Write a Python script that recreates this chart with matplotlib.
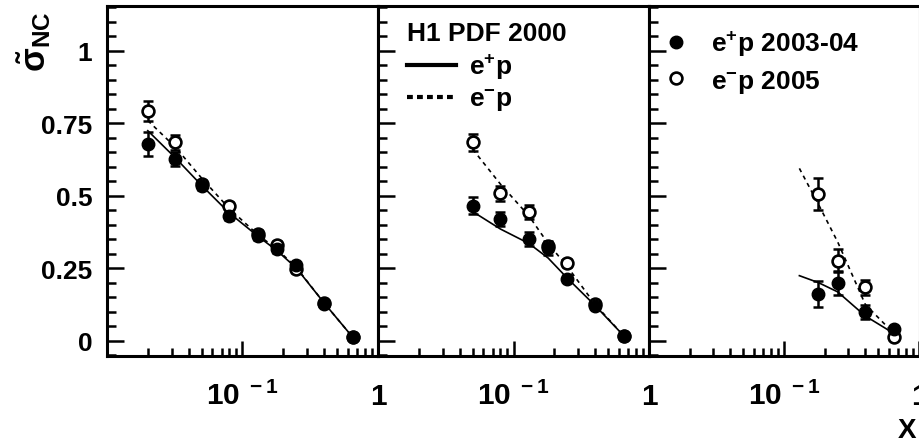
import numpy as np
import matplotlib
matplotlib.use('Agg')
import matplotlib.pyplot as plt
from matplotlib.ticker import FixedLocator, FixedFormatter, NullFormatter, LogLocator, MultipleLocator
from matplotlib.lines import Line2D

plt.rcParams['font.family'] = ['Liberation Sans', 'DejaVu Sans']
plt.rcParams['font.weight'] = 'bold'
plt.rcParams['mathtext.fontset'] = 'custom'
plt.rcParams['mathtext.rm'] = 'Liberation Sans:bold'
plt.rcParams['mathtext.it'] = 'Liberation Sans:bold'
plt.rcParams['mathtext.bf'] = 'Liberation Sans:bold'
plt.rcParams['mathtext.sf'] = 'Liberation Sans:bold'

# ---------------- data ----------------
# panel 1
p1_x = [0.02, 0.032, 0.05, 0.08, 0.13, 0.18, 0.25, 0.40, 0.65]
p1_eplus = [0.678, 0.627, 0.534, 0.431, 0.360, 0.315, 0.260, 0.127, 0.012]
p1_eplus_err = [0.040, 0.025, 0.015, 0.015, 0.012, 0.012, 0.012, 0.010, 0.008]
p1_eminus = [0.793, 0.684, 0.540, 0.466, 0.368, 0.330, 0.247, 0.130, 0.012]
p1_eminus_err = [0.035, 0.025, 0.015, 0.012, 0.012, 0.012, 0.015, 0.010, 0.008]
p1_th_x = [0.02, 0.032, 0.05, 0.08, 0.13, 0.18, 0.25, 0.40, 0.65]
p1_th_plus = [0.724, 0.630, 0.535, 0.440, 0.360, 0.310, 0.250, 0.130, 0.012]
p1_th_minus = [0.759, 0.667, 0.560, 0.455, 0.365, 0.315, 0.252, 0.130, 0.012]

# panel 2
p2_x = [0.05, 0.08, 0.13, 0.18, 0.25, 0.40, 0.65]
p2_eplus = [0.466, 0.420, 0.351, 0.319, 0.213, 0.121, 0.015]
p2_eplus_err = [0.030, 0.025, 0.025, 0.025, 0.012, 0.010, 0.008]
p2_eminus = [0.684, 0.508, 0.443, 0.325, 0.268, 0.125, 0.015]
p2_eminus_err = [0.030, 0.025, 0.025, 0.015, 0.015, 0.010, 0.008]
p2_th_x = [0.05, 0.08, 0.13, 0.18, 0.25, 0.40, 0.65]
p2_th_plus = [0.445, 0.385, 0.335, 0.285, 0.215, 0.121, 0.017]
p2_th_minus = [0.660, 0.540, 0.430, 0.335, 0.255, 0.125, 0.017]

# panel 3
p3_x = [0.18, 0.25, 0.40, 0.65]
p3_eplus = [0.161, 0.199, 0.098, 0.040]
p3_eplus_err = [0.046, 0.040, 0.025, 0.010]
p3_eminus = [0.506, 0.276, 0.184, 0.012]
p3_eminus_err = [0.055, 0.040, 0.025, 0.010]
p3_th_x = [0.13, 0.18, 0.25, 0.40, 0.65]
p3_th_plus = [0.224, 0.200, 0.168, 0.085, 0.025]
p3_th_minus = [0.594, 0.470, 0.340, 0.125, 0.025]

x_major = [0.01, 0.1, 1.0]
x_major_labels = ['', r'$10^{\ -1}$', '1']
y_major = [0, 0.25, 0.5, 0.75, 1.0]
y_major_labels = ['0', '0.25', '0.5', '0.75', '1']

legend_theory_title = 'H1 PDF 2000'
legend_theory_labels = [r'e$^{+}$p', r'e$^{-}$p']
legend_data_labels = [r'e$^{+}$p 2003-04', r'e$^{-}$p 2005']
ylabel_text = r'$\tilde{\sigma}_{\mathrm{NC}}$'
xlabel_text = 'X'

panels = [
    dict(x=p1_x, ep=p1_eplus, epe=p1_eplus_err, em=p1_eminus, eme=p1_eminus_err,
         tx=p1_th_x, tp=p1_th_plus, tm=p1_th_minus),
    dict(x=p2_x, ep=p2_eplus, epe=p2_eplus_err, em=p2_eminus, eme=p2_eminus_err,
         tx=p2_th_x, tp=p2_th_plus, tm=p2_th_minus),
    dict(x=p3_x, ep=p3_eplus, epe=p3_eplus_err, em=p3_eminus, eme=p3_eminus_err,
         tx=p3_th_x, tp=p3_th_plus, tm=p3_th_minus),
]

# ---------------- figure ----------------
W, H = 920, 439
fig = plt.figure(figsize=(W / 100, H / 100), dpi=100)

lefts = [107, 378, 649]
pw = 271
bottom_px = 356.7
top_px = 7.3
axes = []
for i, lp in enumerate(lefts):
    w = pw if i < 2 else 270
    ax = fig.add_axes([lp / W, 1 - bottom_px / H, w / W, (bottom_px - top_px) / H])
    axes.append(ax)

for i, (ax, p) in enumerate(zip(axes, panels)):
    ax.set_xscale('log')
    ax.set_xlim(0.01, 1.0)
    ax.set_ylim(-0.052, 1.153)

    ax.plot(p['tx'], p['tp'], color='k', lw=1.2, zorder=2)
    ax.plot(p['tx'], p['tm'], color='k', lw=1.2, ls=(0, (2.5, 2.5)), zorder=2)

    ax.errorbar(p['x'], p['em'], yerr=p['eme'], fmt='none', ecolor='k',
                elinewidth=1.8, capsize=3.5, capthick=1.8, zorder=3)
    ax.errorbar(p['x'], p['ep'], yerr=p['epe'], fmt='none', ecolor='k',
                elinewidth=1.8, capsize=3.5, capthick=1.8, zorder=3)
    ax.plot(p['x'], p['em'], ls='none', marker='o', ms=8.5, mfc='white', mec='k',
            mew=1.9, zorder=4)
    ax.plot(p['x'], p['ep'], ls='none', marker='o', ms=9, mfc='k', mec='k',
            zorder=5)

    for s in ax.spines.values():
        s.set_linewidth(2.2)
    if i == 2:
        ax.spines['right'].set_linewidth(0.8)
        ax.spines['right'].set_color('#888888')

    ax.xaxis.set_major_locator(FixedLocator(x_major))
    ax.xaxis.set_major_formatter(FixedFormatter(x_major_labels))
    ax.xaxis.set_minor_locator(LogLocator(base=10, subs=np.arange(2, 10)))
    ax.xaxis.set_minor_formatter(NullFormatter())
    ax.yaxis.set_major_locator(FixedLocator(y_major))
    ax.yaxis.set_minor_locator(MultipleLocator(0.05))

    ax.tick_params(axis='both', which='both', direction='in', top=False, right=False,
                   width=1.8, color='k')
    ax.tick_params(axis='y', which='major', length=12.5)
    ax.tick_params(axis='y', which='minor', length=6.5)
    ax.tick_params(axis='x', which='major', length=11)
    ax.tick_params(axis='x', which='minor', length=5.5)
    ax.tick_params(axis='x', labelsize=21.5, pad=35)
    if i == 0:
        ax.yaxis.set_major_formatter(FixedFormatter(y_major_labels))
        ax.tick_params(axis='y', labelsize=19, pad=10.5)
    else:
        ax.tick_params(axis='y', labelleft=False)
    for lab in ax.get_xticklabels():
        lab.set_verticalalignment('baseline')
        lab.set_fontweight('bold')
    for lab in ax.get_yticklabels():
        lab.set_fontweight('bold')

# legends
h_solid = Line2D([], [], color='k', lw=3)
h_dash = Line2D([], [], color='k', lw=3, ls=(0, (1.4, 1.0)))
leg1 = axes[1].legend([h_solid, h_dash], legend_theory_labels, title=legend_theory_title,
                      loc='upper left', bbox_to_anchor=(0.107, 0.958), frameon=False,
                      fontsize=19, title_fontsize=19, handlelength=1.85, handletextpad=0.5,
                      labelspacing=0.25, borderpad=0, borderaxespad=0, alignment='left')
leg1.get_title().set_fontweight('bold')

h_closed = Line2D([], [], ls='none', marker='o', ms=9, mfc='k', mec='k')
h_open = Line2D([], [], ls='none', marker='o', ms=8.5, mfc='white', mec='k', mew=1.9)
leg2 = axes[2].legend([h_closed, h_open], legend_data_labels, loc='upper left',
                      bbox_to_anchor=(0.05, 0.935), frameon=False, fontsize=19,
                      handlelength=1.0, handletextpad=0.85, labelspacing=0.35,
                      borderpad=0, borderaxespad=0, numpoints=1)

fig.text(34 / W, 1 - 42 / H, ylabel_text, rotation=90, ha='center', va='center', fontsize=25)
fig.text(907 / W, 1 - 418 / H, xlabel_text, ha='center', va='top', fontsize=20,
         fontweight='bold')

fig.savefig('out.png', dpi=100)
